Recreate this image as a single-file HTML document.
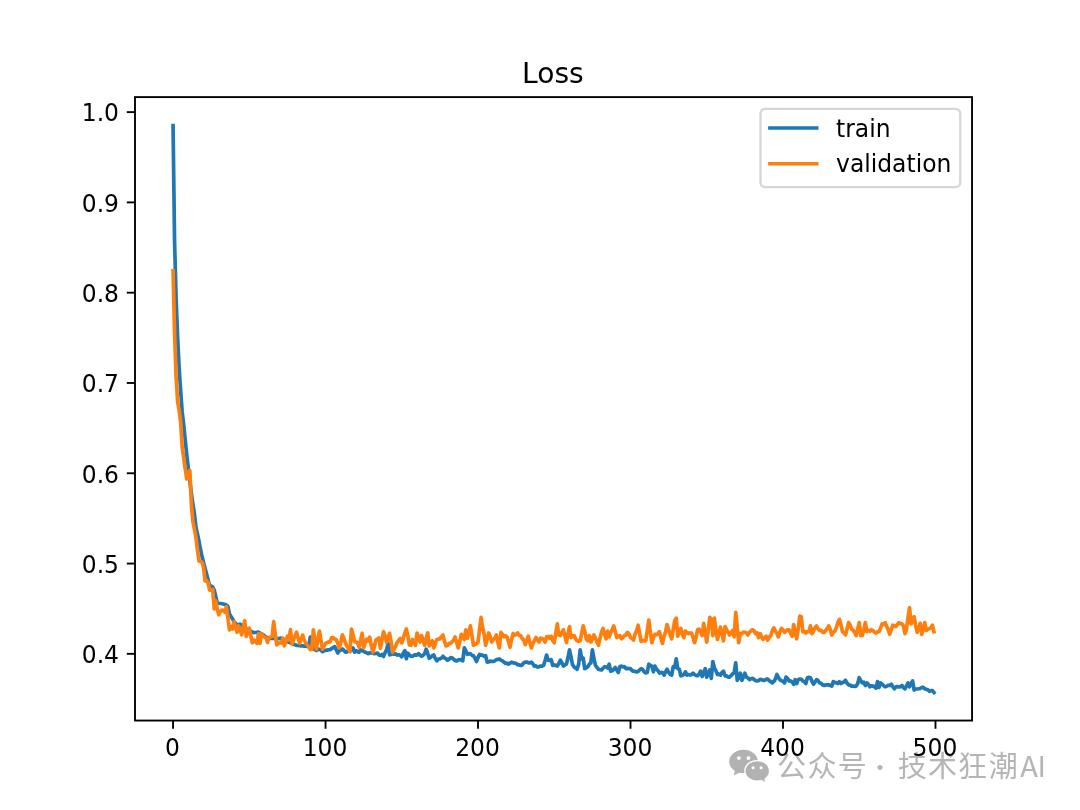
<!DOCTYPE html>
<html lang="zh">
<head>
<meta charset="utf-8">
<title>Loss</title>
<style>
html,body{margin:0;padding:0;background:#ffffff;}
body{width:1080px;height:810px;overflow:hidden;}
svg{display:block;}
.t{font-family:"DejaVu Sans","Liberation Sans",sans-serif;fill:#000;}
.tick{font-size:23.4375px;}
.wm{font-family:"Liberation Sans","Noto Sans CJK SC",sans-serif;fill:#b5b5b5;}
.wc{font-family:"Noto Sans CJK SC","Liberation Sans",sans-serif;}
</style>
</head>
<body>
<svg width="1080" height="810" viewBox="0 0 1080 810">
<rect x="0" y="0" width="1080" height="810" fill="#ffffff"/>
<g id="watermark">
<g fill="#b2b2b2">
<ellipse cx="743.5" cy="761.4" rx="14.3" ry="11.7"/>
<path d="M735 769.8 L733.9 775.4 L740 772.2 Z"/>
</g>
<ellipse cx="757.25" cy="770.9" rx="13" ry="11" fill="#ffffff"/>
<g fill="#b2b2b2">
<ellipse cx="757.25" cy="770.9" rx="11.65" ry="9.7"/>
<path d="M761 779.6 L765 782 L764.1 777.6 Z"/>
</g>
<g fill="#ffffff">
<circle cx="738.85" cy="758.05" r="1.9"/><circle cx="748.4" cy="758.05" r="1.9"/>
<circle cx="753.1" cy="767.8" r="1.55"/><circle cx="761.1" cy="767.8" r="1.55"/>
</g>
<text class="wm" y="777.3" font-size="29" x="776.9 807.55 837.85 866 868.1 894 897.75 928 958.1 988.8 1020.25 1037.6">公众号 <tspan class="wc" font-size="24" dy="-1.4">·</tspan><tspan dy="1.4"> 技术狂潮</tspan><tspan class="wc">AI</tspan></text>
</g>
<defs><clipPath id="axclip"><rect x="135" y="97.1" width="837.05" height="623.45"/></clipPath></defs>
<g stroke="#000" stroke-width="1.875" fill="none">
<path d="M173.05 720.55 V728.75"/>
<path d="M325.54 720.55 V728.75"/>
<path d="M478.02 720.55 V728.75"/>
<path d="M630.51 720.55 V728.75"/>
<path d="M783 720.55 V728.75"/>
<path d="M935.48 720.55 V728.75"/>
<path d="M135 653.85 H126.8"/>
<path d="M135 563.56 H126.8"/>
<path d="M135 473.27 H126.8"/>
<path d="M135 382.98 H126.8"/>
<path d="M135 292.69 H126.8"/>
<path d="M135 202.4 H126.8"/>
<path d="M135 112.11 H126.8"/>
</g>
<g class="t tick" text-anchor="middle">
<text class="t tick" transform="matrix(1 0 0 1.065 172.55 756)">0</text>
<text class="t tick" transform="matrix(1 0 0 1.065 325.04 756)">100</text>
<text class="t tick" transform="matrix(1 0 0 1.065 477.52 756)">200</text>
<text class="t tick" transform="matrix(1 0 0 1.065 630.01 756)">300</text>
<text class="t tick" transform="matrix(1 0 0 1.065 782.5 756)">400</text>
<text class="t tick" transform="matrix(1 0 0 1.065 934.98 756)">500</text>
</g>
<g class="t tick" text-anchor="end">
<text class="t tick" transform="matrix(1 0 0 1.065 119 663.15)">0.4</text>
<text class="t tick" transform="matrix(1 0 0 1.065 119 572.86)">0.5</text>
<text class="t tick" transform="matrix(1 0 0 1.065 119 482.57)">0.6</text>
<text class="t tick" transform="matrix(1 0 0 1.065 119 392.28)">0.7</text>
<text class="t tick" transform="matrix(1 0 0 1.065 119 301.99)">0.8</text>
<text class="t tick" transform="matrix(1 0 0 1.065 119 211.7)">0.9</text>
<text class="t tick" transform="matrix(1 0 0 1.065 119 121.41)">1.0</text>
</g>
<g clip-path="url(#axclip)" fill="none" stroke-width="3.7" stroke-linejoin="round" stroke-linecap="square">
<path stroke="#1f77b4" d="M173.05 125.5 L174.57 241 L176.1 298 L177.62 337 L179.14 368 L180.67 391 L182.19 412 L183.72 425 L185.24 440 L186.77 455 L188.29 468 L189.82 480.5 L191.34 493 L192.87 504 L194.39 513.5 L195.92 527 L197.44 534 L198.97 541 L200.49 549 L202.02 556.5 L203.54 562.5 L205.07 568.5 L206.59 574 L208.12 580 L209.64 586 L211.17 586 L212.69 587 L214.22 590 L215.74 596.5 L217.27 603 L218.79 603.5 L220.32 603.5 L221.84 603.7 L223.37 604 L224.89 604.5 L226.42 605 L227.94 606.5 L229.46 614 L230.99 616.5 L232.51 618.7 L234.04 622 L235.56 623 L237.09 625 L238.61 625 L240.14 624.2 L241.66 625.35 L243.19 626.5 L244.71 627.5 L246.24 628.5 L247.76 629.5 L249.29 630.5 L250.81 631.23 L252.34 631.97 L253.86 632.7 L255.39 632.53 L256.91 632.37 L258.44 632.2 L259.96 633.03 L261.49 633.87 L263.01 634.7 L264.54 635.95 L266.06 637.2 L267.59 637.57 L269.11 637.93 L270.64 638.3 L272.16 638.38 L273.69 638.46 L275.21 638.54 L276.74 638.62 L278.26 638.7 L279.79 638.45 L281.31 638.2 L282.83 639.02 L284.36 639.84 L285.88 640.66 L287.41 641.48 L288.93 642.3 L290.46 642.9 L291.98 643.5 L293.51 644.1 L295.03 644.7 L296.56 645.3 L298.08 645.47 L299.61 645.63 L301.13 645.8 L302.66 645.92 L304.18 646.05 L305.71 646.17 L307.23 646.3 L308.76 646.5 L310.28 637 L311.81 647 L313.33 648.05 L314.86 649.64 L316.38 650.5 L317.91 649.22 L319.43 649.33 L320.96 650.22 L322.48 651.67 L324.01 650.78 L325.53 650.32 L327.06 650.06 L328.58 649.89 L330.11 649.72 L331.63 648.54 L333.15 647.7 L334.68 646.61 L336.2 649.74 L337.73 653.09 L339.25 650.75 L340.78 650.12 L342.3 648.98 L343.83 650.17 L345.35 652.19 L346.88 652 L348.4 650.75 L349.93 651.4 L351.45 649.04 L352.98 648 L354.5 652.19 L356.03 650.62 L357.55 651.64 L359.08 652.19 L360.6 649.96 L362.13 650.57 L363.65 651.4 L365.18 652.2 L366.7 652.84 L368.23 653.69 L369.75 652.76 L371.28 652.84 L372.8 652.64 L374.33 653.7 L375.85 653.5 L377.38 653.04 L378.9 654.9 L380.43 655.46 L381.95 654.54 L383.47 656.44 L385 652.94 L386.52 649.96 L388.05 643.42 L389.57 654.8 L391.1 654.42 L392.62 653.5 L394.15 654.22 L395.67 653.89 L397.2 655.16 L398.72 654.75 L400.25 655.4 L401.77 656.77 L403.3 653.23 L404.82 650.62 L406.35 658.73 L407.87 653.23 L409.4 655.04 L410.92 656.21 L412.45 656.33 L413.97 655.12 L415.5 654.93 L417.02 655.03 L418.55 653.74 L420.07 655.08 L421.6 656.33 L423.12 655.31 L424.65 653.74 L426.17 649.2 L427.7 653.48 L429.22 658.28 L430.75 657.24 L432.27 655.69 L433.79 655.04 L435.32 658.42 L436.84 660.87 L438.37 659.06 L439.89 658.95 L441.42 658.15 L442.94 656.33 L444.47 657.98 L445.99 658.62 L447.52 660.22 L449.04 659.33 L450.57 657.63 L452.09 657.88 L453.62 659.18 L455.14 660.63 L456.67 660.87 L458.19 659.93 L459.72 659.57 L461.24 659.93 L462.77 660.87 L464.29 647.91 L465.82 650.63 L467.34 654.39 L468.87 653.74 L470.39 653.72 L471.92 655.29 L473.44 655.69 L474.97 658.2 L476.49 661.52 L478.02 657.63 L479.54 654.39 L481.07 655.03 L482.59 655.06 L484.11 656.33 L485.64 655.69 L487.16 662.17 L488.69 662.01 L490.21 661.15 L491.74 661.51 L493.26 661.41 L494.79 660.87 L496.31 659.67 L497.84 659.45 L499.36 658.93 L500.89 660.17 L502.41 660.87 L503.94 662.05 L505.46 663.46 L506.99 663.16 L508.51 664.11 L510.04 663.19 L511.56 662.17 L513.09 662.83 L514.61 663.05 L516.14 663.46 L517.66 664.73 L519.19 664.88 L520.71 665.41 L522.24 664.89 L523.76 662.74 L525.29 662.17 L526.81 661.99 L528.34 662.81 L529.86 662.92 L531.39 662.17 L532.91 663.97 L534.43 666.06 L535.96 665.8 L537.48 667.09 L539.01 666.7 L540.53 666.06 L542.06 666.19 L543.58 665.41 L545.11 660.54 L546.63 655.04 L548.16 660.22 L549.68 660.43 L551.21 659.57 L552.73 665.41 L554.26 664.76 L555.78 665.58 L557.31 666.06 L558.83 663.49 L560.36 660.22 L561.88 662.93 L563.41 666.06 L564.93 664.76 L566.46 664.11 L567.98 657.54 L569.51 649.85 L571.03 657.2 L572.56 664.76 L574.08 666.92 L575.61 668.01 L577.13 669.3 L578.66 664.11 L580.18 649.85 L581.71 658.93 L583.23 658.28 L584.75 668.65 L586.28 667.85 L587.8 666.7 L589.33 664.22 L590.85 662.81 L592.38 649.85 L593.9 658.26 L595.43 665.41 L596.95 667.28 L598.48 669.3 L600 669.73 L601.53 669.94 L603.05 668.2 L604.58 666.7 L606.1 666.98 L607.63 668 L609.15 664.11 L610.68 671.24 L612.2 670.83 L613.73 669.3 L615.25 667.35 L616.78 670.05 L618.3 672.54 L619.83 666.7 L621.35 666.01 L622.88 666.87 L624.4 666.7 L625.93 668.65 L627.45 668.41 L628.98 668.69 L630.5 668.65 L632.03 670.48 L633.55 671.24 L635.08 671.36 L636.6 671.89 L638.12 671.38 L639.65 669.9 L641.17 668.65 L642.7 669.59 L644.22 671.89 L645.75 672.81 L647.27 672.54 L648.8 664.11 L650.32 665.35 L651.85 666.06 L653.37 671.89 L654.9 666.06 L656.42 669.02 L657.95 670.59 L659.47 673.19 L661 672.4 L662.52 672.54 L664.05 675.13 L665.57 671.7 L667.1 669.3 L668.62 672.49 L670.15 674.48 L671.67 675.13 L673.2 666.7 L674.72 667.35 L676.25 658.93 L677.77 668.65 L679.3 669.3 L680.82 675.78 L682.35 675.41 L683.87 674.48 L685.4 671.89 L686.92 675.13 L688.44 674.52 L689.97 675.13 L691.49 674.52 L693.02 673.19 L694.54 674.48 L696.07 675.49 L697.59 675.78 L699.12 674.1 L700.64 671.24 L702.17 676.43 L703.69 672.83 L705.22 668.65 L706.74 677.07 L708.27 672.98 L709.79 669.94 L711.32 678.37 L712.84 661.52 L714.37 668 L715.89 670.57 L717.42 674.48 L718.94 674.14 L720.47 675.13 L721.99 672.52 L723.52 671.24 L725.04 675.78 L726.57 675.85 L728.09 677.15 L729.62 677.07 L731.14 675.51 L732.67 673.83 L734.19 672.54 L735.72 662.81 L737.24 680.31 L738.76 676.82 L740.29 673.19 L741.81 680.31 L743.34 677.23 L744.86 673.19 L746.39 677.07 L747.91 677.84 L749.44 679.67 L750.96 678.71 L752.49 678.37 L754.01 679.35 L755.54 680.76 L757.06 680.96 L758.59 680.62 L760.11 679.42 L761.64 679.67 L763.16 680.31 L764.69 680.3 L766.21 679.08 L767.74 679.02 L769.26 680.74 L770.79 681.45 L772.31 682.91 L773.84 681.47 L775.36 679.02 L776.89 674.48 L778.41 677.42 L779.94 679.67 L781.46 680.83 L782.99 681.32 L784.51 682.91 L786.04 677.07 L787.56 678.4 L789.08 680.96 L790.61 680.96 L792.13 682.05 L793.66 684.2 L795.18 679.67 L796.71 683.56 L798.23 679.67 L799.76 679.02 L801.28 679.35 L802.81 680.96 L804.33 681.71 L805.86 683.56 L807.38 677.72 L808.91 677.34 L810.43 677.72 L811.96 681.26 L813.48 684.2 L815.01 682.02 L816.53 679.67 L818.06 680.6 L819.58 682.91 L821.11 683.28 L822.63 684.85 L824.16 685.51 L825.68 684.95 L827.21 684.85 L828.73 684.87 L830.26 685.37 L831.78 686.15 L833.31 681.61 L834.83 682.6 L836.36 682.48 L837.88 683.56 L839.4 681.61 L840.93 683.56 L842.45 682.59 L843.98 682.05 L845.5 680.31 L847.03 683.07 L848.55 684.85 L850.08 685.14 L851.6 686.15 L853.13 686.14 L854.65 686.32 L856.18 686.15 L857.7 683.56 L859.23 677.72 L860.75 680.78 L862.28 682.91 L863.8 682.26 L865.33 685.5 L866.85 682.91 L868.38 684.37 L869.9 686.8 L871.43 685.8 L872.95 686.15 L874.48 686.52 L876 688.09 L877.53 681.61 L879.05 687.44 L880.58 682.91 L882.1 684.18 L883.63 685.65 L885.15 686.8 L886.68 686.24 L888.2 685.24 L889.72 685.54 L891.25 684.2 L892.77 686.58 L894.3 688.74 L895.82 686.8 L897.35 686.63 L898.87 686.87 L900.4 686.8 L901.92 685.5 L903.45 687.46 L904.97 688.74 L906.5 686.06 L908.02 682.91 L909.55 686.8 L911.07 683.55 L912.6 680.96 L914.12 690.04 L915.65 689 L917.17 688.99 L918.7 688.74 L920.22 688.49 L921.75 687.47 L923.27 687.44 L924.8 688.77 L926.32 689.39 L927.85 689.75 L929.37 691.33 L930.9 690.67 L932.42 690.69 L933.95 692.5"/>
<path stroke="#ff7f0e" d="M173.05 270.8 L174.57 333 L176.1 377 L177.62 401.5 L179.14 410.5 L180.67 422 L182.19 447 L183.72 458 L185.24 469 L186.77 479 L188.29 474 L189.82 470.5 L191.34 503.5 L192.87 521.5 L194.39 529 L195.92 537.5 L197.44 550 L198.97 561 L200.49 561.5 L202.02 562 L203.54 567.5 L205.07 581 L206.59 580.5 L208.12 583 L209.64 590.2 L211.17 590.2 L212.69 589.2 L214.22 608.8 L215.74 600.7 L217.27 609 L218.79 614.8 L220.32 611.5 L221.84 610 L223.37 610.5 L224.89 612.3 L226.42 606.7 L227.94 618 L229.46 629.8 L230.99 627 L232.51 629 L234.04 621.7 L235.56 627 L237.09 632.3 L238.61 625.7 L240.14 630 L241.66 634.8 L243.19 628 L244.71 620.7 L246.24 636.3 L247.76 632 L249.29 628.2 L250.81 636 L252.34 642.8 L253.86 640 L255.39 641.5 L256.91 643.3 L258.44 633.7 L259.96 643.3 L261.49 633.7 L263.01 636 L264.54 637 L266.06 638 L267.59 642.4 L269.11 637.5 L270.64 637 L272.16 636.5 L273.69 621.7 L275.21 634 L276.74 644.8 L278.26 643.5 L279.79 642.6 L281.31 643 L282.83 638.2 L284.36 645.8 L285.88 641 L287.41 636.2 L288.93 640 L290.46 629.7 L291.98 643.8 L293.51 640 L295.03 636 L296.56 632.2 L298.08 638 L299.61 643.3 L301.13 639 L302.66 635.2 L304.18 640 L305.71 643 L307.23 645 L308.76 647 L310.28 649.5 L311.81 649.5 L313.33 629.76 L314.86 639.33 L316.38 649.2 L317.91 638.99 L319.43 631.06 L320.96 640.25 L322.48 649.2 L324.01 646.13 L325.53 643.37 L327.06 642.66 L328.58 641.93 L330.11 641.81 L331.63 637.54 L333.15 637.48 L334.68 639.12 L336.2 639.48 L337.73 643.21 L339.25 647.91 L340.78 642.9 L342.3 634.92 L343.83 638.11 L345.35 642.71 L346.88 646.17 L348.4 648.92 L349.93 651.53 L351.45 629.03 L352.98 634.43 L354.5 641.59 L356.03 642.11 L357.55 642.57 L359.08 647.28 L360.6 640.31 L362.13 633.28 L363.65 647.61 L365.18 642.63 L366.7 639.17 L368.23 640.93 L369.75 637.21 L371.28 645.38 L372.8 652.19 L374.33 647.02 L375.85 640.15 L377.38 638.99 L378.9 637.86 L380.43 648.13 L381.95 640.72 L383.47 631.64 L385 635.94 L386.52 642.24 L388.05 637.77 L389.57 633.28 L391.1 641.69 L392.62 652.19 L394.15 648.94 L395.67 646.04 L397.2 642.56 L398.72 640.13 L400.25 638.51 L401.77 642.9 L403.3 638.51 L404.82 632.99 L406.35 629.03 L407.87 636.07 L409.4 644.99 L410.92 645.31 L412.45 639.48 L413.97 641.73 L415.5 645.31 L417.02 633 L418.55 637.18 L420.07 642.07 L421.6 635.59 L423.12 640.38 L424.65 645.31 L426.17 638.44 L427.7 633 L429.22 645.96 L430.75 643.71 L432.27 640.78 L433.79 647.91 L435.32 643.65 L436.84 639.48 L438.37 639.17 L439.89 638.83 L441.42 636.62 L442.94 634.94 L444.47 641.16 L445.99 645.96 L447.52 645.29 L449.04 643.42 L450.57 643.37 L452.09 641.69 L453.62 640.16 L455.14 636.89 L456.67 642.4 L458.19 647.91 L459.72 642.04 L461.24 634.3 L462.77 636.51 L464.29 639.48 L465.82 629.76 L467.34 638.19 L468.87 632.19 L470.39 625.87 L471.92 635.42 L473.44 645.31 L474.97 644.08 L476.49 643.82 L478.02 642.07 L479.54 629.84 L481.07 617.44 L482.59 626.96 L484.11 634.3 L485.64 645.31 L487.16 639.26 L488.69 633 L490.21 636.53 L491.74 642.07 L493.26 639.81 L494.79 638.19 L496.31 634.94 L497.84 642.27 L499.36 647.91 L500.89 632.35 L502.41 634.4 L503.94 636.89 L505.46 635.75 L506.99 636.89 L508.51 641.47 L510.04 647.26 L511.56 639.41 L513.09 633.65 L514.61 635.16 L516.14 634.3 L517.66 633 L519.19 635.43 L520.71 635.59 L522.24 638.58 L523.76 640.13 L525.29 644.67 L526.81 640.7 L528.34 636.24 L529.86 642.71 L531.39 647.91 L532.91 643.66 L534.43 640.5 L535.96 637.54 L537.48 639.86 L539.01 642.07 L540.53 638.19 L542.06 638.49 L543.58 639.48 L545.11 642.07 L546.63 636.89 L548.16 636.45 L549.68 638.19 L551.21 636.24 L552.73 640.64 L554.26 642.72 L555.78 633.18 L557.31 623.93 L558.83 634.94 L560.36 635.59 L561.88 632.69 L563.41 629.76 L564.93 635.82 L566.46 642.72 L567.98 634.04 L569.51 626.52 L571.03 637.54 L572.56 636.29 L574.08 635.59 L575.61 638.98 L577.13 640.78 L578.66 641.35 L580.18 640.78 L581.71 633.03 L583.23 625.87 L584.75 631.18 L586.28 638.83 L587.8 640.78 L589.33 635.59 L590.85 642.07 L592.38 639.22 L593.9 634.94 L595.43 637.85 L596.95 642.06 L598.48 645.31 L600 638.19 L601.53 632.19 L603.05 628.46 L604.58 634.04 L606.1 638.83 L607.63 631.06 L609.15 636.89 L610.68 632.95 L612.2 629.54 L613.73 625.87 L615.25 631.5 L616.78 637.54 L618.3 636.21 L619.83 635.59 L621.35 638.83 L622.88 637.34 L624.4 635.59 L625.93 635.11 L627.45 632.35 L628.98 634.02 L630.5 637.54 L632.03 638.39 L633.55 640.13 L635.08 634.06 L636.6 630.76 L638.12 625.22 L639.65 633.7 L641.17 641.43 L642.7 640.53 L644.22 640.79 L645.75 640.78 L647.27 630.75 L648.8 620.04 L650.32 631.77 L651.85 642.72 L653.37 637.72 L654.9 634.3 L656.42 634.89 L657.95 633.65 L659.47 631.7 L661 638.2 L662.52 643.37 L664.05 636.23 L665.57 631.72 L667.1 624.57 L668.62 629.92 L670.15 634.8 L671.67 638.83 L673.2 629.86 L674.72 620.69 L676.25 618.09 L677.77 636.24 L679.3 631.68 L680.82 628.46 L682.35 634 L683.87 637.54 L685.4 631.06 L686.92 632.57 L688.44 633.65 L689.97 632.96 L691.49 633 L693.02 637.29 L694.54 642.72 L696.07 637.23 L697.59 629.76 L699.12 629.11 L700.64 632.16 L702.17 635.59 L703.69 623.28 L705.22 632.77 L706.74 642.07 L708.27 630.02 L709.79 617.44 L711.32 619.39 L712.84 635.59 L714.37 618.09 L715.89 629.57 L717.42 639.48 L718.94 633.62 L720.47 627.17 L721.99 633.2 L723.52 640.78 L725.04 626.52 L726.57 629.65 L728.09 632.35 L729.62 634.94 L731.14 632.65 L732.67 630.41 L734.19 636.89 L735.72 612.26 L737.24 627.61 L738.76 642.72 L740.29 633.65 L741.81 633.69 L743.34 632.17 L744.86 632.35 L746.39 632.9 L747.91 634.94 L749.44 632.28 L750.96 630.95 L752.49 629.76 L754.01 630.53 L755.54 633.65 L757.06 633 L758.59 637.54 L760.11 633.65 L761.64 636.88 L763.16 639.48 L764.69 637.37 L766.21 636.24 L767.74 640.13 L769.26 637.11 L770.79 635.59 L772.31 630.73 L773.84 627.81 L775.36 631.06 L776.89 633.45 L778.41 636.89 L779.94 631.99 L781.46 628.46 L782.99 629.89 L784.51 632.35 L786.04 630.99 L787.56 629.76 L789.08 629.76 L790.61 633.12 L792.13 636.24 L793.66 624.57 L795.18 632.53 L796.71 638.83 L798.23 628.66 L799.76 616.15 L801.28 616.8 L802.81 631.7 L804.33 631.27 L805.86 633 L807.38 631.71 L808.91 631.7 L810.43 625.87 L811.96 633.65 L813.48 631.4 L815.01 627.65 L816.53 625.87 L818.06 629.03 L819.58 630.41 L821.11 630.38 L822.63 632.28 L824.16 632.35 L825.68 630.56 L827.21 628.75 L828.73 625.87 L830.26 629.28 L831.78 634.94 L833.31 632.35 L834.83 631.06 L836.36 627.66 L837.88 622.29 L839.4 619.39 L840.93 624.42 L842.45 631.7 L843.98 632.98 L845.5 634.94 L847.03 629 L848.55 622.63 L850.08 624.8 L851.6 629.11 L853.13 630.23 L854.65 632.34 L856.18 635.59 L857.7 628.86 L859.23 622.63 L860.75 635.59 L862.28 635.59 L863.8 629.52 L865.33 622.63 L866.85 631.7 L868.38 630.33 L869.9 631.31 L871.43 629.76 L872.95 630.68 L874.48 632.21 L876 633 L877.53 631.85 L879.05 631.7 L880.58 628.09 L882.1 623.93 L883.63 624.37 L885.15 622.63 L886.68 626.39 L888.2 629.7 L889.72 634.3 L891.25 629.58 L892.77 625.22 L894.3 625.74 L895.82 626.52 L897.35 624.59 L898.87 622.63 L900.4 623.77 L901.92 623.69 L903.45 625.87 L904.97 633.65 L906.5 629.11 L908.02 617.61 L909.55 607.72 L911.07 623.93 L912.6 620.24 L914.12 616.8 L915.65 625.07 L917.17 632.35 L918.7 628.48 L920.22 623.28 L921.75 634.3 L923.27 629.13 L924.8 622.63 L926.32 630.41 L927.85 629.44 L929.37 628.46 L930.9 627.94 L932.42 625.22 L933.95 631.7"/>
</g>
<rect x="135" y="97.1" width="837.05" height="623.45" fill="none" stroke="#000" stroke-width="1.875"/>
<text class="t" transform="matrix(1 0 0 1.02 552.9 83.1)" font-size="28.125" text-anchor="middle">Loss</text>
<rect x="760.5" y="108.9" width="199.8" height="78.2" rx="4.7" ry="4.7" fill="#ffffff" fill-opacity="0.8" stroke="#cccccc" stroke-opacity="0.8" stroke-width="2.344"/>
<path d="M769.89 128.1 H816.76" stroke="#1f77b4" stroke-width="3.516" stroke-linecap="square" fill="none"/>
<path d="M769.89 163.8 H816.76" stroke="#ff7f0e" stroke-width="3.516" stroke-linecap="square" fill="none"/>
<text class="t tick" transform="matrix(1 0 0 1.065 836.01 136.7)">train</text>
<text class="t tick" transform="matrix(1 0 0 1.065 836.01 171.7)">validation</text>
</svg>
</body>
</html>
